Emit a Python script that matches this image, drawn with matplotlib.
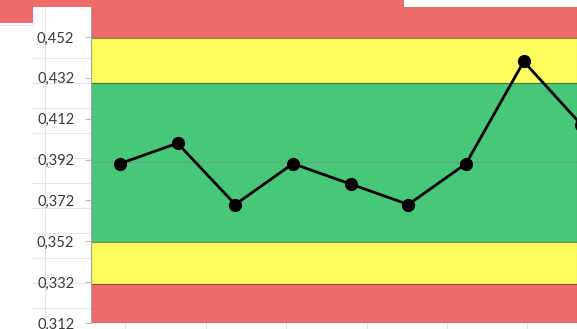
import matplotlib.pyplot as plt
from matplotlib.patches import Rectangle
from matplotlib.lines import Line2D

# values
samples = [1, 2, 3, 4, 5, 6, 7, 8, 9]
values = [0.390, 0.400, 0.370, 0.390, 0.380, 0.370, 0.390, 0.440, 0.409]
center = 0.3908
limits_warn = [0.3518, 0.4296]
limits_ctrl = [0.3311, 0.4514]
yticks = [0.312, 0.332, 0.352, 0.372, 0.392, 0.412, 0.432, 0.452]
ytick_labels = ['0,312', '0,332', '0,352', '0,372', '0,392', '0,412', '0,432', '0,452']

plt.rcParams['font.family'] = ['Lato', 'DejaVu Sans']

W, H = 577, 329
fig = plt.figure(figsize=(W / 100, H / 100), dpi=100)
ax = fig.add_axes([91 / W, 6 / H, (W - 91) / W, (H - 6) / H])

red = '#ee6b6b'
yellow = '#ffff5f'
green = '#47c878'
ymin, ymax = 0.312, 0.4701

ax.axhspan(limits_ctrl[1], ymax + 0.01, facecolor=red, edgecolor='#a04848', lw=0.8)
ax.axhspan(limits_warn[1], limits_ctrl[1], facecolor=yellow, edgecolor='#8c8a3a', lw=0.8)
ax.axhspan(limits_warn[0], limits_warn[1], facecolor=green, edgecolor='#3a7a4a', lw=0.8)
ax.axhspan(limits_ctrl[0], limits_warn[0], facecolor=yellow, edgecolor='#8c8a3a', lw=0.8)
ax.axhspan(ymin, limits_ctrl[0], facecolor=red, edgecolor='#a04848', lw=0.8)
ax.axhline(center, color='#7f8f80', lw=0.6)

ax.plot(samples, values, color='black', lw=2, marker='o', markersize=8.5, zorder=5,
        solid_joinstyle='round')

ax.set_ylim(ymin, ymax)
ax.set_xlim(0.5, 0.5 + (W - 91) / 57.7)
ax.set_yticks(yticks)
ax.set_yticklabels(ytick_labels)
ax.tick_params(axis='y', length=4, color='#bfbfbf', pad=8, labelsize=10.5, labelcolor='#3a3a3a')
ax.tick_params(axis='x', bottom=False, labelbottom=False)
for s in ['top', 'right', 'bottom']:
    ax.spines[s].set_visible(False)
ax.spines['left'].set_color('#a6a6a6')
ax.spines['left'].set_linewidth(0.8)
ax.patch.set_visible(False)

# worksheet cell lines behind the chart
fig.add_artist(Line2D([45 / W, 45 / W], [0, 1 - 7 / H], color='#e3e3e3', lw=0.8, zorder=-1))
for x in [125, 206, 286, 367, 447, 527]:
    fig.add_artist(Line2D([x / W, x / W], [0, 1], color='#e3e3e3', lw=0.8, zorder=-1))
for y in [58, 83, 108, 133, 158, 183, 208, 233, 258, 283, 308]:
    fig.add_artist(Line2D([33 / W, 91 / W], [1 - y / H, 1 - y / H], color='#e6e6e6', lw=0.8, zorder=-1))
fig.add_artist(Line2D([0, 33 / W], [1 - 25 / H, 1 - 25 / H], color='#e6e6e6', lw=0.8, zorder=-1))

# screenshot edges at the top
fig.add_artist(Rectangle((0, 1 - 7 / H), 404 / W, 7 / H, transform=fig.transFigure,
                         facecolor=red, edgecolor='none', zorder=6))
fig.add_artist(Rectangle((0, 1 - 23 / H), 33 / W, 23 / H, transform=fig.transFigure,
                         facecolor=red, edgecolor='none', zorder=6))
fig.add_artist(Rectangle((404 / W, 1 - 7 / H), (W - 404) / W, 7 / H, transform=fig.transFigure,
                         facecolor='white', edgecolor='none', zorder=6))

plt.savefig('out.png', dpi=100)
